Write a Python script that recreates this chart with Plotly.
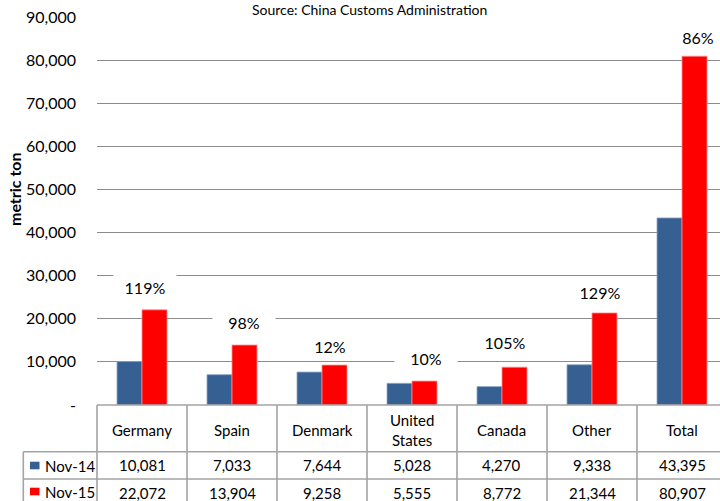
import plotly.graph_objects as go

# ---------------- data ----------------
categories = ["Germany", "Spain", "Denmark", "United<br>States", "Canada", "Other", "Total"]
series_names = ["Nov-14", "Nov-15"]
nov14 = [10081, 7033, 7644, 5028, 4270, 9338, 43395]
nov15 = [22072, 13904, 9258, 5555, 8772, 21344, 80907]
pct_labels = ["119%", "98%", "12%", "10%", "105%", "129%", "86%"]
y_tickvals = [0, 10000, 20000, 30000, 40000, 50000, 60000, 70000, 80000, 90000]
y_ticktext = ["-", "10,000", "20,000", "30,000", "40,000", "50,000",
              "60,000", "70,000", "80,000", "90,000"]
title_text = "Source: China Customs Administration"
y_title = "metric ton"

# ---------------- layout constants ----------------
W, H = 720, 501
ML, MR, MT, MB = 97, 0, 17, 96
PW = W - ML - MR
PH = H - MT - MB
COL = 90.0
x_range = [-0.5, -0.5 + PW / COL]
FONT = "Lato"
BLUE = "#376092"
RED = "#FF0000"
LINE = "#A3A3A3"

# percent label placement (pixel offset from category centre, pixel y centre)
pct_dx = [3, 12, 8, 14, 3, 8, 16]
pct_py = [287, 322, 346, 358, 342, 292, 37]


def px_x(p):
    return (p - ML) / PW


def px_y(p):
    return (H - MB - p) / PH


def cat_x(d):
    return (d - x_range[0]) / (x_range[1] - x_range[0])


idx = list(range(len(categories)))

fig = go.Figure()
fig.add_trace(go.Bar(x=idx, y=nov14, name=series_names[0],
                     marker=dict(color=BLUE, line=dict(color="#8EA6C6", width=0.8))))
fig.add_trace(go.Bar(x=idx, y=nov15, name=series_names[1],
                     marker=dict(color=RED, line=dict(color="#FF8A8A", width=0.8))))

shapes = []
annotations = []

# table lines
y_top = H - MB
y_hdr = 451.7
y_r1 = 479
left_px = 23.3
right_paper = 1.0
shapes.append(dict(type="line", xref="paper", yref="paper", x0=px_x(ML), x1=right_paper,
                   y0=px_y(y_top), y1=px_y(y_top), line=dict(color=LINE, width=1.6)))
for yy in (y_hdr, y_r1):
    shapes.append(dict(type="line", xref="paper", yref="paper", x0=px_x(left_px), x1=right_paper,
                       y0=px_y(yy), y1=px_y(yy), line=dict(color=LINE, width=1.6)))
shapes.append(dict(type="line", xref="paper", yref="paper", x0=px_x(left_px), x1=px_x(left_px),
                   y0=px_y(y_hdr), y1=px_y(H + 10), line=dict(color=LINE, width=1.6)))
for k in range(len(categories) + 1):
    xb = cat_x(-0.5 + k)
    if xb > 1.0:
        continue
    shapes.append(dict(type="line", xref="paper", yref="paper", x0=xb, x1=xb,
                       y0=px_y(y_top), y1=px_y(H + 10), line=dict(color=LINE, width=1.6)))

# table text
for i, c in enumerate(categories):
    annotations.append(dict(text=c, xref="paper", yref="paper", x=cat_x(i), y=px_y(429.5),
                            xanchor="center", yanchor="middle", showarrow=False,
                            font=dict(family=FONT, size=15, color="#000")))
    annotations.append(dict(text=f"{nov14[i]:,}", xref="paper", yref="paper", x=cat_x(i), y=px_y(465.5),
                            xanchor="center", yanchor="middle", showarrow=False,
                            font=dict(family=FONT, size=15, color="#000")))
    annotations.append(dict(text=f"{nov15[i]:,}", xref="paper", yref="paper", x=cat_x(i), y=px_y(492.5),
                            xanchor="center", yanchor="middle", showarrow=False,
                            font=dict(family=FONT, size=15, color="#000")))

# legend keys in table
for name, col, yc in ((series_names[0], BLUE, 465.5), (series_names[1], RED, 491.5)):
    shapes.append(dict(type="rect", xref="paper", yref="paper", x0=px_x(30), x1=px_x(39.5),
                       y0=px_y(yc - 3.8), y1=px_y(yc + 3.8), fillcolor=col, line=dict(width=0)))
    annotations.append(dict(text=name, xref="paper", yref="paper", x=px_x(42.5), y=px_y(yc + 0.5),
                            xanchor="left", yanchor="middle", showarrow=False,
                            font=dict(family=FONT, size=15, color="#000")))

# percent labels
for i, t in enumerate(pct_labels):
    annotations.append(dict(text=t, xref="paper", yref="paper", x=cat_x(i + pct_dx[i] / COL),
                            y=px_y(pct_py[i]), xanchor="center", yanchor="middle", showarrow=False,
                            width=62, height=26, bgcolor="white", borderpad=0,
                            font=dict(family=FONT, size=16, color="#000")))

# title & axis title
annotations.append(dict(text=title_text, xref="paper", yref="paper", x=px_x(369.5), y=px_y(0),
                        xanchor="center", yanchor="top", showarrow=False, borderpad=0,
                        font=dict(family=FONT, size=14, color="#000")))
annotations.append(dict(text="<b>" + y_title + "</b>", xref="paper", yref="paper", x=px_x(14),
                        y=px_y(189), xanchor="center", yanchor="middle", textangle=-90,
                        showarrow=False, font=dict(family=FONT, size=16, color="#000")))

fig.update_layout(
    width=W, height=H,
    margin=dict(l=ML, r=MR, t=MT, b=MB, pad=0),
    paper_bgcolor="white", plot_bgcolor="white",
    barmode="group", bargap=1 - 50 / COL, bargroupgap=0,
    showlegend=False,
    shapes=shapes, annotations=annotations,
    font=dict(family=FONT, color="#000"),
)
fig.update_xaxes(range=x_range, showticklabels=False, showgrid=False, zeroline=False,
                 showline=False, ticks="")
fig.update_yaxes(range=[0, 90000], tickvals=y_tickvals, ticktext=y_ticktext,
                 showgrid=True, gridcolor="#8C8C8C", gridwidth=1.2, zeroline=False,
                 showline=False, ticks="", ticklabelstandoff=20,
                 tickfont=dict(family=FONT, size=16, color="#000"))

fig.write_html("out.html")
